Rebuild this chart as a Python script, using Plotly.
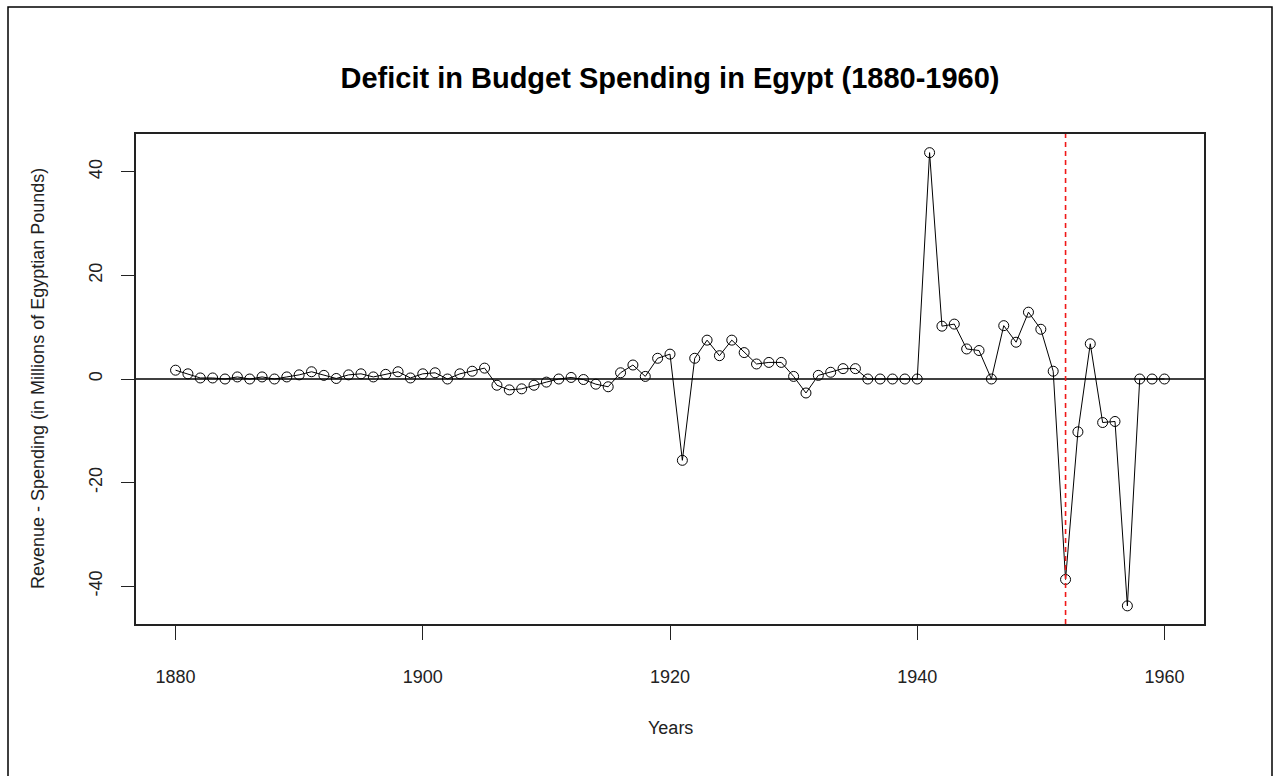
import plotly.graph_objects as go

years = list(range(1880, 1961))
deficit = [
    1.7, 1.0, 0.2, 0.2, 0.0, 0.4, 0.0, 0.4, 0.0, 0.4,   # 1880-1889
    0.8, 1.4, 0.7, 0.1, 0.8, 1.0, 0.4, 0.9, 1.4, 0.2,   # 1890-1899
    1.0, 1.2, 0.0, 1.0, 1.5, 2.1, -1.2, -2.1, -1.9, -1.2,  # 1900-1909
    -0.6, 0.0, 0.3, -0.1, -1.0, -1.5, 1.2, 2.7, 0.5, 4.0,  # 1910-1919
    4.8, -15.7, 4.0, 7.5, 4.5, 7.5, 5.1, 2.9, 3.2, 3.2,    # 1920-1929
    0.5, -2.7, 0.7, 1.3, 2.0, 2.0, 0.0, 0.0, 0.0, 0.0,     # 1930-1939
    0.0, 43.7, 10.2, 10.6, 5.8, 5.5, 0.0, 10.3, 7.1, 12.9, # 1940-1949
    9.6, 1.5, -38.7, -10.2, 6.8, -8.4, -8.2, -43.8, 0.0, 0.0,  # 1950-1959
    0.0,                                                  # 1960
]
x_ticks = [1880, 1900, 1920, 1940, 1960]
y_ticks = [-40, -20, 0, 20, 40]
y_tick_labels = ["-40", "-20", "0", "20", "40"]
event_year = 1952

title_text = "Deficit in Budget Spending in Egypt (1880-1960)"
x_title = "Years"
y_title = "Revenue - Spending (in Millions of Egyptian Pounds)"

W, H = 1275, 776
L, R, T, B = 136, 71, 134, 152
pw, ph = W - L - R, H - T - B

FONT = "Liberation Sans, Arial, sans-serif"

fig = go.Figure()
fig.add_trace(go.Scatter(
    x=years, y=deficit, mode="lines+markers",
    line=dict(color="black", width=1),
    marker=dict(symbol="circle-open", size=10, color="black", line=dict(width=1, color="black")),
    showlegend=False, hoverinfo="x+y",
))

fig.add_shape(type="line", xref="paper", yref="y", x0=0, x1=1, y0=0, y1=0,
              line=dict(color="black", width=1.3))
fig.add_shape(type="line", xref="x", yref="paper", x0=event_year, x1=event_year, y0=0, y1=1,
              line=dict(color="#f01818", width=1.6, dash="5px,4px"))

# outer frame of the device
fig.add_shape(type="rect", xref="paper", yref="paper",
              x0=(8 - L) / pw, x1=(1272 - L) / pw,
              y0=(H - B - 800) / ph, y1=(H - B - 7) / ph,
              line=dict(color="black", width=1.5), layer="below")

fig.update_layout(
    width=W, height=H,
    margin=dict(l=L, r=R, t=T, b=B, pad=0),
    paper_bgcolor="white", plot_bgcolor="white",
    font=dict(family=FONT, size=18, color="#222"),
    title=dict(text="<b>" + title_text + "</b>", x=(L + pw / 2) / W, xanchor="center",
               y=1 - 78 / H, yanchor="middle",
               font=dict(family=FONT, size=29, color="black")),
    xaxis=dict(range=[1876.8, 1963.2], tickmode="array", tickvals=x_ticks,
               ticks="outside", ticklen=14, tickwidth=1.3, tickcolor="#222",
               showline=True, mirror=True, linecolor="#222", linewidth=1.5,
               showgrid=False, zeroline=False, ticklabelstandoff=22,
               tickfont=dict(size=18, color="#222")),
    yaxis=dict(range=[-47.3, 47.3], tickmode="array", tickvals=y_ticks, ticktext=y_tick_labels,
               ticks="outside", ticklen=13, tickwidth=1.3, tickcolor="#222",
               showline=True, mirror=True, linecolor="#222", linewidth=1.5,
               showgrid=False, zeroline=False, tickangle=-90, ticklabelstandoff=12,
               tickfont=dict(size=18, color="#222")),
    annotations=[
        dict(text=x_title, xref="paper", yref="paper", x=0.5, y=0, yshift=-(728 - (H - B)),
             showarrow=False, xanchor="center", yanchor="middle",
             font=dict(family=FONT, size=18, color="#222")),
        dict(text=y_title, xref="paper", yref="paper", x=0, xshift=-(L - 38), y=0.5,
             showarrow=False, xanchor="center", yanchor="middle", textangle=-90,
             font=dict(family=FONT, size=18, color="#222")),
    ],
)

fig.write_html("out.html")
